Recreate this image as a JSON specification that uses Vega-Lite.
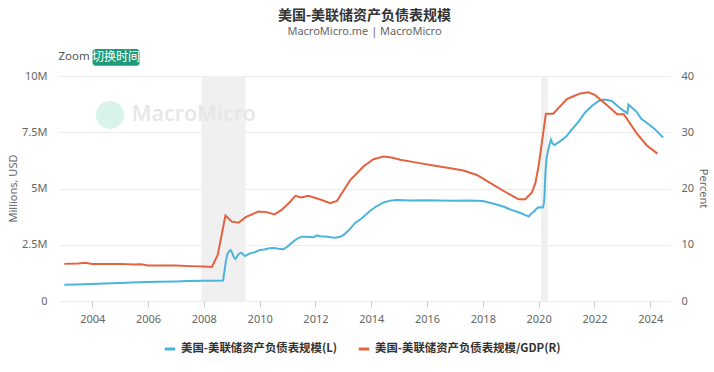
{
  "$schema": "https://vega.github.io/schema/vega-lite/v6.json",
  "width": 611,
  "height": 225,
  "autosize": {"type": "none"},
  "padding": {"left": 59, "top": 76, "right": 44, "bottom": 71},
  "background": "white",
  "title": {
    "text": "美国-美联储资产负债表规模",
    "subtitle": "MacroMicro.me | MacroMicro",
    "anchor": "middle",
    "frame": "group",
    "offset": 12,
    "font": "Noto Sans CJK SC",
    "fontSize": 14,
    "fontWeight": "bold",
    "color": "#333333",
    "subtitleFont": "Noto Sans",
    "subtitleFontSize": 11,
    "subtitleColor": "#666666",
    "subtitlePadding": 3
  },
  "datasets": {
    "bs": [
      {"d": "2003-01-01", "v": 725000}, {"d": "2003-06-01", "v": 738000}, {"d": "2004-01-01", "v": 760000},
      {"d": "2004-06-01", "v": 775000}, {"d": "2005-01-01", "v": 805000}, {"d": "2005-06-01", "v": 820000},
      {"d": "2006-01-01", "v": 840000}, {"d": "2006-06-01", "v": 855000}, {"d": "2007-01-01", "v": 870000},
      {"d": "2007-06-01", "v": 885000}, {"d": "2008-01-01", "v": 905000}, {"d": "2008-06-01", "v": 905000},
      {"d": "2008-09-10", "v": 915000}, {"d": "2008-09-24", "v": 1250000}, {"d": "2008-10-15", "v": 1750000},
      {"d": "2008-11-05", "v": 2080000}, {"d": "2008-11-26", "v": 2200000}, {"d": "2008-12-17", "v": 2260000},
      {"d": "2009-01-07", "v": 2140000}, {"d": "2009-01-28", "v": 1940000}, {"d": "2009-02-18", "v": 1860000},
      {"d": "2009-03-11", "v": 1980000}, {"d": "2009-04-01", "v": 2090000}, {"d": "2009-05-06", "v": 2150000},
      {"d": "2009-06-03", "v": 2060000}, {"d": "2009-06-24", "v": 2000000}, {"d": "2009-08-05", "v": 2080000},
      {"d": "2009-09-02", "v": 2120000}, {"d": "2009-10-07", "v": 2150000}, {"d": "2009-11-04", "v": 2180000},
      {"d": "2010-01-06", "v": 2270000}, {"d": "2010-03-03", "v": 2290000}, {"d": "2010-05-05", "v": 2340000},
      {"d": "2010-07-07", "v": 2350000}, {"d": "2010-09-01", "v": 2320000}, {"d": "2010-11-10", "v": 2300000},
      {"d": "2011-01-05", "v": 2430000}, {"d": "2011-03-02", "v": 2600000}, {"d": "2011-05-04", "v": 2760000},
      {"d": "2011-07-06", "v": 2860000}, {"d": "2011-09-07", "v": 2860000}, {"d": "2011-12-07", "v": 2830000},
      {"d": "2012-01-18", "v": 2920000}, {"d": "2012-03-07", "v": 2880000}, {"d": "2012-06-06", "v": 2860000},
      {"d": "2012-09-05", "v": 2810000}, {"d": "2012-11-07", "v": 2840000}, {"d": "2013-01-02", "v": 2930000},
      {"d": "2013-03-06", "v": 3120000}, {"d": "2013-06-05", "v": 3470000}, {"d": "2013-09-04", "v": 3690000},
      {"d": "2013-12-18", "v": 4010000}, {"d": "2014-03-05", "v": 4200000}, {"d": "2014-06-04", "v": 4370000},
      {"d": "2014-09-03", "v": 4460000}, {"d": "2014-12-03", "v": 4490000}, {"d": "2015-06-03", "v": 4470000},
      {"d": "2016-01-06", "v": 4480000}, {"d": "2016-06-01", "v": 4470000}, {"d": "2017-01-04", "v": 4460000},
      {"d": "2017-06-07", "v": 4470000}, {"d": "2017-10-04", "v": 4460000}, {"d": "2018-01-03", "v": 4440000},
      {"d": "2018-06-06", "v": 4310000}, {"d": "2018-10-03", "v": 4190000}, {"d": "2019-01-02", "v": 4060000},
      {"d": "2019-05-01", "v": 3920000}, {"d": "2019-08-28", "v": 3750000}, {"d": "2019-09-18", "v": 3860000},
      {"d": "2019-10-30", "v": 3970000}, {"d": "2019-12-04", "v": 4100000}, {"d": "2020-01-01", "v": 4170000},
      {"d": "2020-02-26", "v": 4160000}, {"d": "2020-03-11", "v": 4360000}, {"d": "2020-03-18", "v": 4670000},
      {"d": "2020-03-25", "v": 5300000}, {"d": "2020-04-01", "v": 5810000}, {"d": "2020-04-15", "v": 6370000},
      {"d": "2020-05-06", "v": 6720000}, {"d": "2020-06-10", "v": 7170000}, {"d": "2020-07-01", "v": 7000000},
      {"d": "2020-07-29", "v": 6930000}, {"d": "2020-09-02", "v": 7020000}, {"d": "2020-10-28", "v": 7150000},
      {"d": "2020-12-30", "v": 7320000}, {"d": "2021-03-03", "v": 7590000}, {"d": "2021-06-02", "v": 7950000},
      {"d": "2021-09-01", "v": 8380000}, {"d": "2021-12-01", "v": 8680000}, {"d": "2022-03-02", "v": 8900000},
      {"d": "2022-05-18", "v": 8950000}, {"d": "2022-08-17", "v": 8890000}, {"d": "2022-12-07", "v": 8560000},
      {"d": "2023-03-08", "v": 8340000}, {"d": "2023-03-22", "v": 8730000}, {"d": "2023-07-05", "v": 8410000},
      {"d": "2023-09-06", "v": 8100000}, {"d": "2024-01-03", "v": 7800000}, {"d": "2024-03-06", "v": 7620000},
      {"d": "2024-06-19", "v": 7260000}
    ],
    "gdp": [
      {"d": "2003-01-01", "v": 6.6}, {"d": "2003-07-01", "v": 6.65}, {"d": "2003-10-01", "v": 6.8},
      {"d": "2004-01-01", "v": 6.6}, {"d": "2004-07-01", "v": 6.6}, {"d": "2005-01-01", "v": 6.6},
      {"d": "2005-07-01", "v": 6.5}, {"d": "2005-10-01", "v": 6.55}, {"d": "2006-01-01", "v": 6.3},
      {"d": "2006-07-01", "v": 6.3}, {"d": "2007-01-01", "v": 6.3}, {"d": "2007-07-01", "v": 6.2},
      {"d": "2008-01-01", "v": 6.15}, {"d": "2008-04-15", "v": 6.05}, {"d": "2008-07-01", "v": 8.2},
      {"d": "2008-10-10", "v": 15.2}, {"d": "2009-01-01", "v": 14.1}, {"d": "2009-04-01", "v": 13.9},
      {"d": "2009-07-01", "v": 14.9}, {"d": "2009-12-15", "v": 15.9}, {"d": "2010-04-01", "v": 15.8},
      {"d": "2010-07-15", "v": 15.4}, {"d": "2010-10-15", "v": 16.2}, {"d": "2011-02-01", "v": 17.6},
      {"d": "2011-04-15", "v": 18.7}, {"d": "2011-07-01", "v": 18.4}, {"d": "2011-10-01", "v": 18.7},
      {"d": "2012-03-25", "v": 17.95}, {"d": "2012-07-10", "v": 17.4}, {"d": "2012-10-10", "v": 17.8},
      {"d": "2013-04-01", "v": 21.5}, {"d": "2013-09-20", "v": 23.9}, {"d": "2014-01-30", "v": 25.2},
      {"d": "2014-06-10", "v": 25.7}, {"d": "2014-09-25", "v": 25.5}, {"d": "2015-01-15", "v": 25.1},
      {"d": "2015-08-20", "v": 24.6}, {"d": "2016-03-25", "v": 24.1}, {"d": "2016-11-01", "v": 23.6},
      {"d": "2017-04-20", "v": 23.2}, {"d": "2017-10-15", "v": 22.4}, {"d": "2018-04-05", "v": 21.0},
      {"d": "2018-09-25", "v": 19.6}, {"d": "2019-04-10", "v": 18.1}, {"d": "2019-07-10", "v": 18.1},
      {"d": "2019-10-05", "v": 19.3}, {"d": "2019-11-20", "v": 21.0}, {"d": "2020-01-01", "v": 24.0},
      {"d": "2020-04-05", "v": 33.3}, {"d": "2020-07-10", "v": 33.3}, {"d": "2021-01-05", "v": 35.9},
      {"d": "2021-04-01", "v": 36.4}, {"d": "2021-07-01", "v": 36.9}, {"d": "2021-10-15", "v": 37.1},
      {"d": "2022-01-10", "v": 36.6}, {"d": "2022-06-15", "v": 34.8}, {"d": "2022-10-25", "v": 33.2},
      {"d": "2023-01-20", "v": 33.2}, {"d": "2023-07-08", "v": 29.8}, {"d": "2023-11-15", "v": 27.7},
      {"d": "2024-04-05", "v": 26.2}
    ],
    "bands": [
      {"s": "2007-12-01", "e": "2009-06-30"},
      {"s": "2020-02-01", "e": "2020-04-30"}
    ],
    "one": [{"k": 1}]
  },
  "layer": [
    {
      "layer": [
        {
          "data": {"name": "bands"},
          "mark": {"type": "rect", "color": "#f0f0f0"},
          "encoding": {
            "x": {"field": "s", "type": "temporal"},
            "x2": {"field": "e"}
          }
        },
        {
          "data": {"name": "bs"},
          "mark": {"type": "line", "strokeWidth": 2},
          "encoding": {
            "x": {
              "field": "d", "type": "temporal", "title": null,
              "scale": {"domain": [{"year": 2002, "month": 10, "date": 23}, {"year": 2024, "month": 9, "date": 16}]},
              "axis": {"format": "%Y", "tickCount": {"interval": "year", "step": 2}, "grid": false, "ticks": true, "tickColor": "#cccccc", "tickSize": 6, "labelPadding": 6}
            },
            "y": {
              "field": "v", "type": "quantitative",
              "scale": {"domain": [0, 10000000], "nice": false},
              "axis": {"title": "Millions, USD", "values": [0, 2500000, 5000000, 7500000, 10000000], "labelExpr": "datum.value == 0 ? '0' : format(datum.value / 1000000, '~g') + 'M'", "grid": true, "labelPadding": 12, "titleX": -46, "titleY": 112, "titleAngle": -90, "titleBaseline": "middle", "titleAlign": "center"}
            },
            "color": {"datum": "美国-美联储资产负债表规模(L)", "type": "nominal"}
          }
        },
        {
          "data": {"name": "one"},
          "mark": {"type": "point", "filled": true, "color": "#d8f3ec", "opacity": 1, "size": 780},
          "encoding": {
            "x": {"datum": {"year": 2004, "month": 8, "date": 20}, "type": "temporal"},
            "y": {"datum": 8270000, "type": "quantitative"}
          }
        },
        {
          "data": {"name": "one"},
          "mark": {"type": "text", "text": "MacroMicro", "align": "left", "baseline": "middle", "font": "Open Sans", "fontSize": 21.5, "fontWeight": 600, "color": "#e6e6e6"},
          "encoding": {
            "x": {"datum": {"year": 2005, "month": 6, "date": 1}, "type": "temporal"},
            "y": {"datum": 8270000, "type": "quantitative"}
          }
        },
        {
          "data": {"name": "one"},
          "mark": {"type": "text", "text": "Zoom", "align": "left", "baseline": "middle", "font": "Noto Sans", "fontSize": 11.5, "color": "#555555"},
          "encoding": {
            "x": {"datum": {"year": 2002, "month": 10, "date": 15}, "type": "temporal"},
            "y": {"datum": 10830000, "type": "quantitative"}
          }
        },
        {
          "data": {"name": "one"},
          "mark": {"type": "rect", "color": "#1f9b7b", "cornerRadius": 3},
          "encoding": {
            "x": {"datum": {"year": 2004, "month": 1, "date": 5}, "type": "temporal"},
            "x2": {"datum": {"year": 2005, "month": 9, "date": 12}},
            "y": {"datum": 11200000, "type": "quantitative"},
            "y2": {"datum": 10460000}
          }
        },
        {
          "data": {"name": "one"},
          "mark": {"type": "text", "text": "切换时间", "align": "center", "baseline": "middle", "font": "Noto Sans CJK SC", "fontSize": 12, "color": "#ffffff"},
          "encoding": {
            "x": {"datum": {"year": 2004, "month": 11, "date": 8}, "type": "temporal"},
            "y": {"datum": 10830000, "type": "quantitative"}
          }
        }
      ]
    },
    {
      "data": {"name": "gdp"},
      "mark": {"type": "line", "strokeWidth": 2},
      "encoding": {
        "x": {"field": "d", "type": "temporal"},
        "y": {
          "field": "v", "type": "quantitative",
          "scale": {"domain": [0, 40], "nice": false},
          "axis": {"orient": "right", "title": "Percent", "values": [0, 10, 20, 30, 40], "grid": false, "labelPadding": 11, "titleX": 32, "titleY": 112, "titleAngle": 90, "titleBaseline": "middle", "titleAlign": "center"}
        },
        "color": {
          "datum": "美国-美联储资产负债表规模/GDP(R)", "type": "nominal",
          "legend": {"orient": "none", "legendX": 104, "legendY": 266, "direction": "horizontal"}
        }
      }
    }
  ],
  "resolve": {"scale": {"y": "independent"}},
  "config": {
    "view": {"stroke": null},
    "axis": {
      "labelFont": "Noto Sans", "labelColor": "#666666", "labelFontSize": 11,
      "titleFont": "Noto Sans", "titleFontWeight": "normal", "titleColor": "#666666", "titleFontSize": 11,
      "gridColor": "#ececec", "domain": false, "ticks": false
    },
    "range": {"category": ["#4cb3db", "#e3623f"]},
    "legend": {
      "title": null,
      "symbolType": "stroke", "symbolStrokeWidth": 3, "symbolSize": 110,
      "labelFont": "Noto Sans CJK SC", "labelFontSize": 11.4, "labelFontWeight": "bold", "labelColor": "#333333",
      "labelLimit": 400, "columnPadding": 14
    }
  }
}
